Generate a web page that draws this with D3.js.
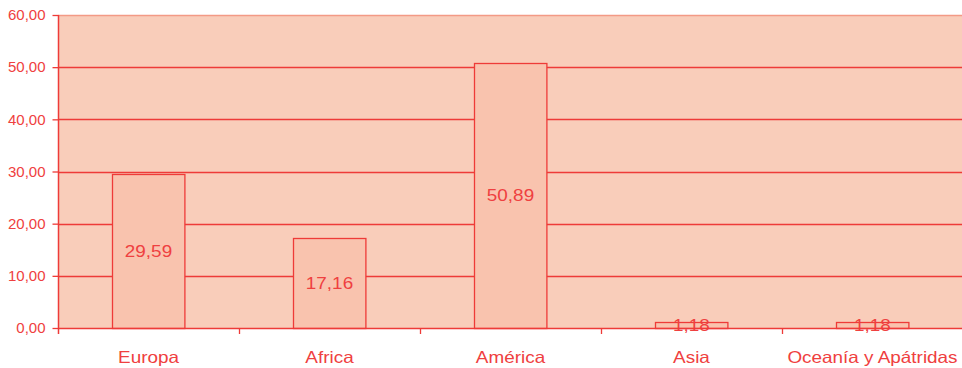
<!DOCTYPE html>
<html>
<head>
<meta charset="utf-8">
<script src="https://cdn.jsdelivr.net/npm/d3@7"></script>
<style>
  body { margin: 0; background: #fff; }
  text { font-family: "Liberation Sans", Arial, sans-serif; fill: #ef4040; }
</style>
</head>
<body>
<div id="chart"></div>
<script>
'use strict'
const categories = ["Europa", "Africa", "América", "Asia", "Oceanía y Apátridas"]
const values = [29.59, 17.16, 50.89, 1.18, 1.18]
const yTicks = [0, 10, 20, 30, 40, 50, 60]

const width = 962, height = 368
const margin = {top: 15, right: -1, bottom: 40, left: 58}
const red = "#ee3b38"
const stretch = 1.16

const locale = d3.formatLocale({decimal: ",", thousands: ".", grouping: [3], currency: ["", "€"]})
const fmt = locale.format(".2f")

const svg = d3.select("#chart")
  .append("svg")
    .attr("width", width)
    .attr("height", height)

const x = d3.scaleBand()
  .domain(categories)
  .range([margin.left, width - margin.right])
  .padding(0)
const y = d3.scaleLinear()
  .domain([0, 60])
  .range([height - margin.bottom, margin.top])

// plot background
svg.append("rect")
  .attr("x", margin.left)
  .attr("y", y(60))
  .attr("width", x.range()[1] - margin.left)
  .attr("height", y(0) - y(60))
  .attr("fill", "#f9cdba")

// grid lines
svg.selectAll(".grid")
  .data(yTicks.filter(d => d > 0))
  .enter()
    .append("line")
    .attr("x1", margin.left)
    .attr("x2", x.range()[1])
    .attr("y1", d => Math.round(y(d)) + 0.5)
    .attr("y2", d => Math.round(y(d)) + 0.5)
    .attr("stroke", d => d === 60 ? "#f39a86" : red)
    .attr("stroke-width", 1.3)

// bars
const barW = x.bandwidth() * 0.4
svg.selectAll(".bar")
  .data(values)
  .enter()
    .append("rect")
    .attr("x", (d, i) => Math.round(x(categories[i]) + (x.bandwidth() - barW) / 2) + 0.5)
    .attr("y", d => Math.round(y(d)) + 0.5)
    .attr("width", barW)
    .attr("height", d => y(0) - Math.round(y(d)))
    .attr("fill", "#f9c3ae")
    .attr("stroke", red)
    .attr("stroke-width", 1.3)

// value labels
svg.selectAll(".val")
  .data(values)
  .enter()
    .append("text")
    .attr("transform", (d, i) => `translate(${x(categories[i]) + x.bandwidth() / 2},${(y(d) + y(0)) / 2}) scale(${stretch},1)`)
    .attr("dy", "0.36em")
    .attr("text-anchor", "middle")
    .attr("font-size", 16.3)
    .text(d => fmt(d))

// y axis
const yAxis = d3.axisLeft(y)
  .tickValues(yTicks)
  .tickSize(6)
  .tickPadding(7)
  .tickFormat(fmt)
const gy = svg.append("g")
  .attr("transform", `translate(${margin.left + 0.5},0)`)
  .call(yAxis)
gy.select(".domain").remove()
gy.selectAll("line").attr("stroke", red).attr("stroke-width", 1.3)
gy.selectAll("text").attr("font-size", 15).attr("fill", "#f05252")
  .style("font-family", "'Liberation Sans', Arial, sans-serif")
svg.append("line")
  .attr("x1", margin.left + 0.5).attr("x2", margin.left + 0.5)
  .attr("y1", y(60)).attr("y2", y(0) + 6)
  .attr("stroke", red).attr("stroke-width", 1.5)

// x axis
svg.append("line")
  .attr("x1", margin.left).attr("x2", x.range()[1])
  .attr("y1", Math.round(y(0)) + 0.5).attr("y2", Math.round(y(0)) + 0.5)
  .attr("stroke", red).attr("stroke-width", 1.5)
svg.selectAll(".xtick")
  .data(categories.slice(1))
  .enter()
    .append("line")
    .attr("x1", d => Math.round(x(d)) + 0.5)
    .attr("x2", d => Math.round(x(d)) + 0.5)
    .attr("y1", y(0))
    .attr("y2", y(0) + 6)
    .attr("stroke", red)
    .attr("stroke-width", 1.3)
svg.selectAll(".xlab")
  .data(categories)
  .enter()
    .append("text")
    .attr("transform", d => `translate(${x(d) + x.bandwidth() / 2},${y(0) + 35}) scale(${stretch},1)`)
    .attr("text-anchor", "middle")
    .attr("font-size", 16.3)
    .text(d => d)
</script>
</body>
</html>
